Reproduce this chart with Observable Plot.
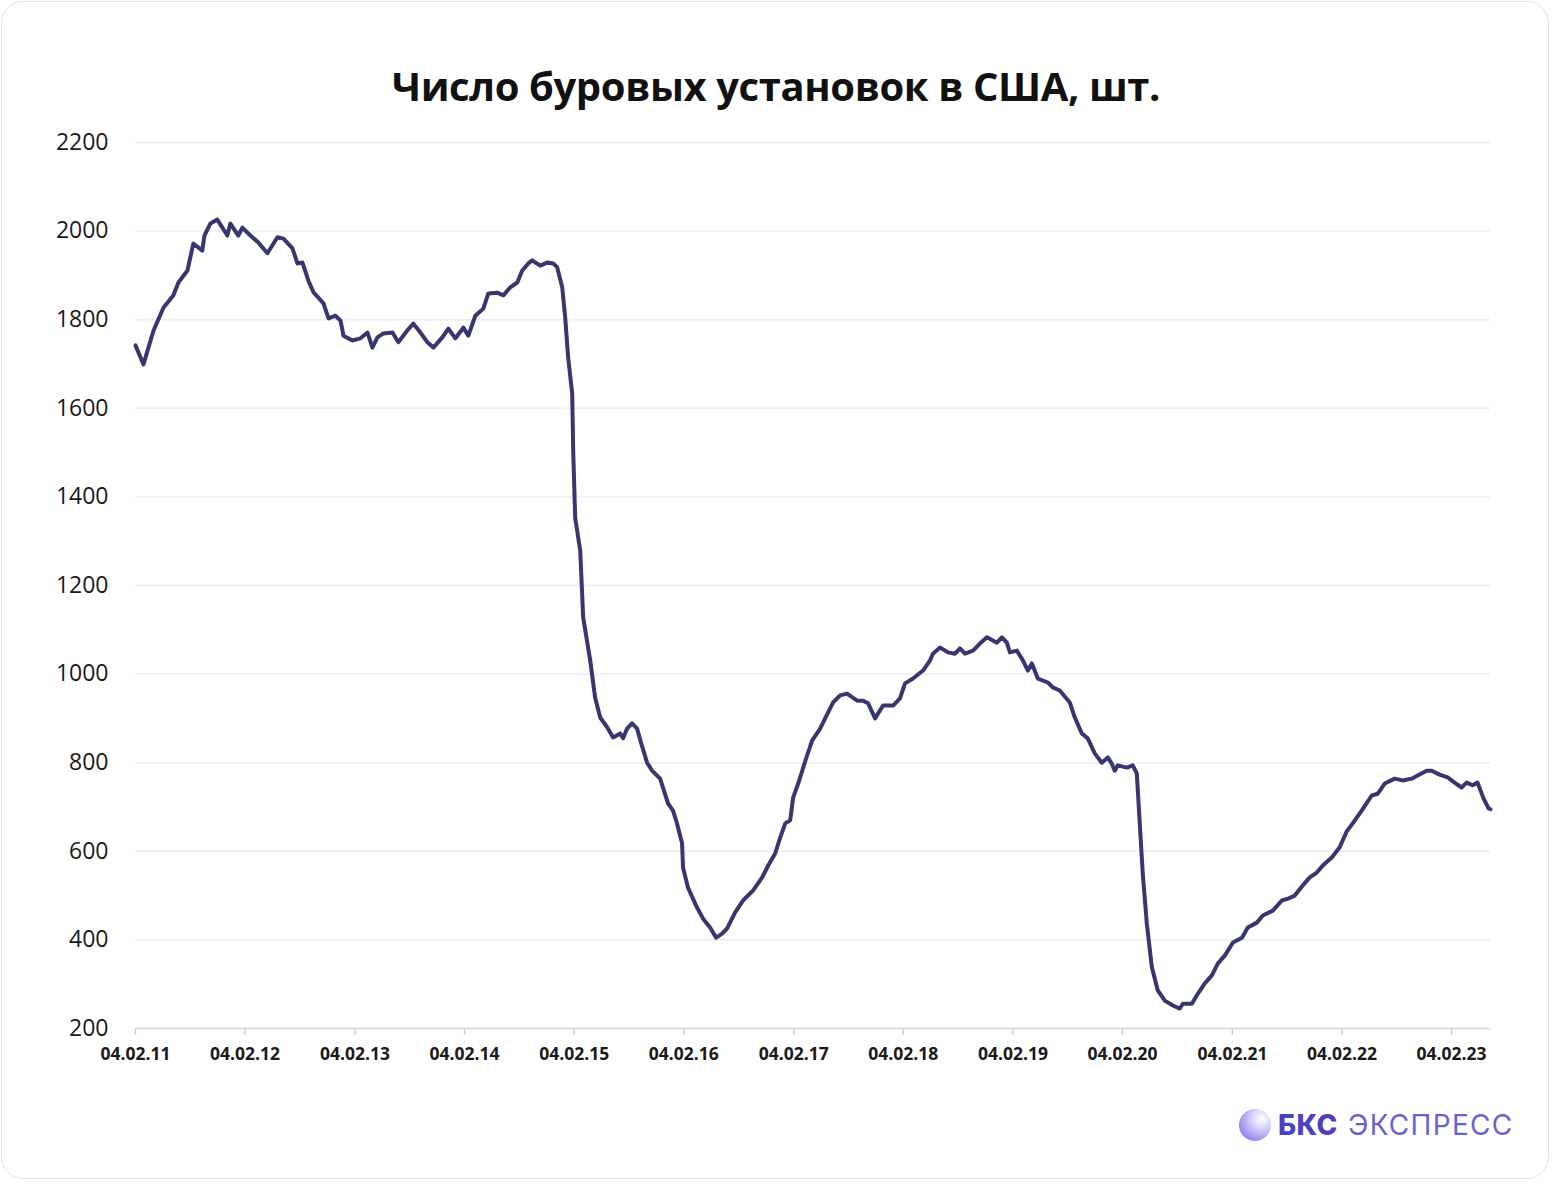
<!DOCTYPE html>
<html>
<head>
<meta charset="utf-8">
<script src="https://cdn.jsdelivr.net/npm/d3@7"></script>
<script src="https://cdn.jsdelivr.net/npm/@observablehq/plot@0.6"></script>
<style>
  html, body { margin: 0; padding: 0; background: #ffffff; }
  #page { position: relative; width: 1552px; height: 1182px; overflow: hidden; font-family: "Open Sans", sans-serif; }
  #card { position: absolute; left: 1px; top: 1px; width: 1548px; height: 1178px; border: 1.5px solid #e4e4e8; border-radius: 22px; box-sizing: border-box; }
  #title { position: absolute; left: 0; top: 58px; width: 1552px; text-align: center; font-weight: 700; font-size: 40px; color: #111; letter-spacing: -0.4px; }
  #chart { position: absolute; left: 0; top: 110px; }
  #logo { position: absolute; left: 1239px; top: 1108px; height: 34px; display: flex; align-items: center; }
  #logo .ball { width: 32px; height: 32px; border-radius: 50%; background: radial-gradient(circle at 70% 30%, #ffffff 0%, #d9d4fb 30%, #9a8ff0 70%, #6c5fe0 100%); margin-right: 7px; }
  #logo .b { font-family: "Inter", sans-serif; font-weight: 800; font-size: 28px; color: #4d3fc4; letter-spacing: 0.5px; }
  #logo .e { font-family: "Inter", sans-serif; font-weight: 400; font-size: 28px; color: #6a5fd4; margin-left: 10px; letter-spacing: 1.3px; }
</style>
</head>
<body>
<div id="page">
  <div id="card"></div>
  <div id="title">Число буровых установок в США, шт.</div>
  <div id="chart"></div>
  <div id="logo"><div class="ball"></div><span class="b">БКС</span><span class="e">ЭКСПРЕСС</span></div>
</div>
<script>
// Decimal years
const years = [
  2011.093, 2011.166, 2011.257, 2011.348, 2011.439, 2011.485, 2011.567, 2011.621, 2011.703, 2011.722,
  2011.776, 2011.840, 2011.931, 2011.959, 2012.031, 2012.068, 2012.141, 2012.214, 2012.296, 2012.387,
  2012.442, 2012.524, 2012.569, 2012.615, 2012.669, 2012.715, 2012.806, 2012.852, 2012.915, 2012.961,
  2012.988, 2013.070, 2013.143, 2013.207, 2013.252, 2013.298, 2013.353, 2013.435, 2013.489, 2013.571,
  2013.626, 2013.690, 2013.754, 2013.808, 2013.890, 2013.945, 2014.009, 2014.082, 2014.127, 2014.191,
  2014.264, 2014.309, 2014.391, 2014.446, 2014.510, 2014.574, 2014.619, 2014.674, 2014.710, 2014.783,
  2014.847, 2014.902, 2014.938, 2014.984, 2015.011, 2015.038, 2015.075, 2015.084, 2015.102, 2015.148,
  2015.175, 2015.239, 2015.284, 2015.330, 2015.394, 2015.448, 2015.512, 2015.539, 2015.576, 2015.621,
  2015.667, 2015.703, 2015.758, 2015.804, 2015.877, 2015.949, 2015.995, 2016.031, 2016.077, 2016.086,
  2016.131, 2016.213, 2016.268, 2016.332, 2016.387, 2016.442, 2016.487, 2016.560, 2016.633, 2016.724,
  2016.806, 2016.861, 2016.924, 2016.970, 2017.016, 2017.061, 2017.088, 2017.134, 2017.207, 2017.261,
  2017.334, 2017.380, 2017.453, 2017.517, 2017.580, 2017.672, 2017.726, 2017.772, 2017.836, 2017.908,
  2018.000, 2018.063, 2018.109, 2018.182, 2018.273, 2018.337, 2018.364, 2018.428, 2018.501, 2018.565,
  2018.610, 2018.656, 2018.729, 2018.792, 2018.856, 2018.947, 2018.993, 2019.038, 2019.066, 2019.129,
  2019.184, 2019.230, 2019.266, 2019.321, 2019.412, 2019.457, 2019.521, 2019.612, 2019.658, 2019.722,
  2019.776, 2019.840, 2019.904, 2019.959, 2019.995, 2020.022, 2020.050, 2020.132, 2020.186, 2020.223,
  2020.250, 2020.277, 2020.314, 2020.360, 2020.414, 2020.478, 2020.551, 2020.615, 2020.642, 2020.724,
  2020.779, 2020.842, 2020.906, 2020.961, 2021.025, 2021.098, 2021.180, 2021.234, 2021.316, 2021.371,
  2021.462, 2021.544, 2021.599, 2021.662, 2021.735, 2021.799, 2021.863, 2021.918, 2022.000, 2022.072,
  2022.136, 2022.191, 2022.273, 2022.364, 2022.419, 2022.483, 2022.574, 2022.647, 2022.729, 2022.783,
  2022.865, 2022.911, 2022.984, 2023.057, 2023.120, 2023.184, 2023.230, 2023.284, 2023.330, 2023.385,
  2023.430, 2023.448
];
// Rig count (units)
const rigs = [
  1742, 1699, 1775, 1827, 1855, 1884, 1911, 1972, 1956, 1990,
  2017, 2026, 1990, 2017, 1990, 2008, 1990, 1974, 1950, 1986,
  1983, 1961, 1927, 1929, 1888, 1862, 1837, 1803, 1809, 1798,
  1764, 1753, 1758, 1771, 1737, 1760, 1769, 1771, 1749, 1776,
  1791, 1771, 1749, 1737, 1760, 1780, 1758, 1782, 1764, 1809,
  1825, 1859, 1861, 1855, 1873, 1884, 1911, 1927, 1934, 1922,
  1929, 1927, 1918, 1873, 1805, 1715, 1633, 1505, 1353, 1279,
  1128, 1031, 947, 902, 880, 857, 866, 855, 877, 889,
  877, 845, 800, 782, 764, 708, 692, 663, 618, 563,
  518, 473, 448, 428, 405, 414, 426, 462, 489, 512,
  541, 568, 595, 631, 663, 670, 721, 753, 810, 850,
  877, 900, 936, 952, 956, 940, 940, 934, 900, 929,
  929, 945, 979, 990, 1008, 1031, 1046, 1060, 1049, 1046,
  1058, 1046, 1053, 1069, 1083, 1071, 1083, 1071, 1049, 1053,
  1031, 1008, 1024, 990, 981, 970, 963, 936, 902, 866,
  855, 821, 800, 812, 798, 782, 794, 789, 794, 776,
  663, 550, 437, 338, 286, 263, 252, 245, 256, 256,
  279, 302, 320, 347, 365, 394, 405, 428, 439, 455,
  466, 489, 493, 500, 523, 541, 552, 568, 586, 609,
  645, 663, 692, 726, 730, 753, 764, 760, 764, 771,
  782, 782, 773, 767, 755, 744, 755, 749, 755, 719,
  697, 695
];
const yTicks = [200, 400, 600, 800, 1000, 1200, 1400, 1600, 1800, 2000, 2200];
const xTickLabels = ["04.02.11","04.02.12","04.02.13","04.02.14","04.02.15","04.02.16","04.02.17","04.02.18","04.02.19","04.02.20","04.02.21","04.02.22","04.02.23"];

function decToDate(y) {
  const yr = Math.floor(y);
  const s = Date.UTC(yr, 0, 1), e = Date.UTC(yr + 1, 0, 1);
  return new Date(s + (y - yr) * (e - s));
}
const data = years.map((y, i) => ({date: decToDate(y), value: rigs[i]}));
const tickDates = xTickLabels.map(s => {
  const [d, m, yy] = s.split(".").map(Number);
  return new Date(Date.UTC(2000 + yy, m - 1, d));
});
const labelOf = d => xTickLabels[tickDates.findIndex(t => +t === +d)];

const chart = Plot.plot({
  width: 1552,
  height: 960,
  marginLeft: 135,
  marginRight: 62,
  marginTop: 32,
  marginBottom: 42,
  style: {fontFamily: "'Open Sans', sans-serif", color: "#1a1a1a", background: "transparent"},
  x: {type: "utc", domain: [tickDates[0], data[data.length - 1].date]},
  y: {domain: [200, 2200]},
  marks: [
    Plot.gridY(yTicks.slice(1), {stroke: "#ececf4", strokeOpacity: 1, strokeWidth: 1.5}),
    Plot.ruleY([200], {stroke: "#d6d6d6", strokeWidth: 1.5}),
    Plot.axisX(tickDates, {tickSize: 7, tickPadding: 12, tickFormat: labelOf, fontSize: 17.5, fontWeight: 700, stroke: "#d0d0d0", strokeWidth: 1.5, fill: "#1a1a1a", label: null}),
    Plot.axisY(yTicks, {tickSize: 0, tickPadding: 27, fontSize: 23, fill: "#1a1a1a", tickFormat: d => String(d), label: null}),
    Plot.lineY(data, {x: "date", y: "value", stroke: "#37366f", strokeWidth: 4, strokeLinejoin: "round", strokeLinecap: "round"})
  ]
});
document.getElementById("chart").appendChild(chart);
</script>
</body>
</html>
